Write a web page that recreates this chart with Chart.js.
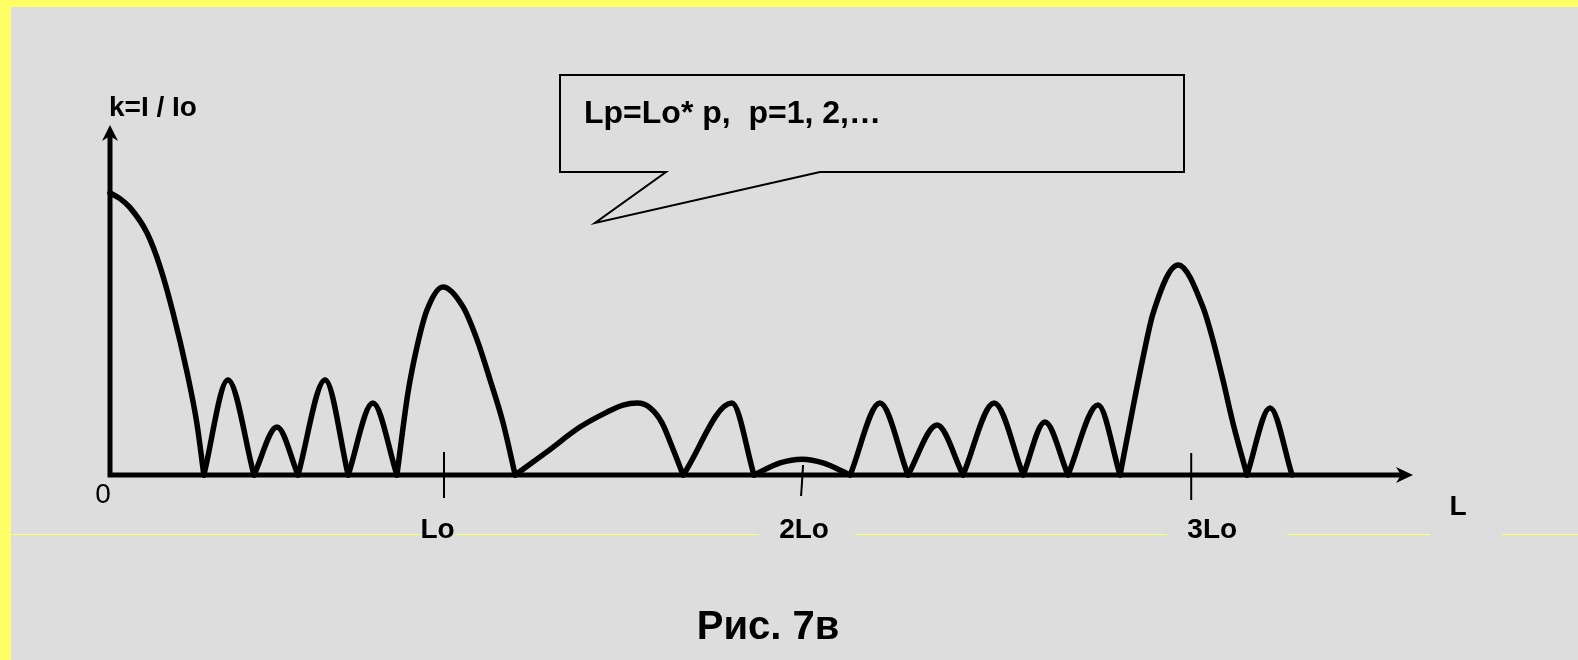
<!DOCTYPE html>
<html>
<head>
<meta charset="utf-8">
<style>
  html, body { margin: 0; padding: 0; background: #dddddd; overflow: hidden; }
  #c { display: block; }
</style>
<script src="https://cdn.jsdelivr.net/npm/chart.js@4.4.1/dist/chart.umd.min.js"></script>
</head>
<body>
<canvas id="c" width="1578" height="660"></canvas>
<script>
// ---- data (L in units of Lo, k = I / Io) ----
const L_VALUES = [
  0, 0.030, 0.060, 0.111, 0.150, 0.189, 0.231, 0.260, 0.281,
  0.353, 0.431,
  0.500, 0.563,
  0.644, 0.713,
  0.787, 0.859,
  0.892, 0.919, 0.949, 0.997, 1.057, 1.099, 1.138, 1.177, 1.213,
  1.308, 1.407, 1.488, 1.536, 1.578, 1.617, 1.653, 1.683, 1.716,
  1.862, 1.928,
  2.006, 2.072, 2.135, 2.216,
  2.305, 2.389,
  2.476, 2.554,
  2.647, 2.734,
  2.799, 2.868,
  2.958, 3.024,
  3.063, 3.093, 3.123, 3.198, 3.272, 3.302, 3.332, 3.362, 3.404,
  3.473, 3.539
];
const K_VALUES = [
  1.000, 0.980, 0.948, 0.858, 0.738, 0.574, 0.362, 0.184, 0,
  0.337, 0,
  0.170, 0,
  0.337, 0,
  0.255, 0,
  0.291, 0.454, 0.585, 0.667, 0.596, 0.479, 0.337, 0.184, 0,
  0.082, 0.170, 0.223, 0.248, 0.255, 0.238, 0.184, 0.099, 0,
  0.255, 0,
  0.043, 0.056, 0.043, 0,
  0.255, 0,
  0.177, 0,
  0.255, 0,
  0.188, 0,
  0.248, 0,
  0.241, 0.418, 0.574, 0.745, 0.596, 0.479, 0.337, 0.184, 0,
  0.238, 0
];
const TICK_VALUES = [1.0, 2.072, 3.237];
const TICK_LABELS = ['Lo', '2Lo', '3Lo'];
const ORIGIN_LABEL = '0';
const X_AXIS_TITLE = 'L';
const Y_AXIS_TITLE = 'k=I / Io';
const CALLOUT_TEXT = 'Lp=Lo* p,  p=1, 2,\u2026';
const CAPTION = 'Рис. 7в';
const X_MAX = 3.901;
const Y_MAX = 1.241;

// ---- split the series into lobes at its zeros (sharp cusps) ----
function lobes() {
  const segs = [];
  let cur = [];
  for (let i = 0; i < L_VALUES.length; i++) {
    const p = { x: L_VALUES[i], y: K_VALUES[i] };
    cur.push(p);
    if (K_VALUES[i] === 0 && i > 0 && i < L_VALUES.length - 1) {
      segs.push(cur);
      cur = [p];
    }
  }
  if (cur.length > 1) segs.push(cur);
  return segs;
}

const FONT = '"Liberation Sans", Arial, Helvetica, sans-serif';
const GRAY = '#dddddd';
const YELLOW = '#ffff66';

const decor = {
  id: 'decor',
  beforeDraw(chart) {
    const ctx = chart.ctx;
    ctx.save();
    ctx.fillStyle = YELLOW;
    ctx.fillRect(0, 0, chart.width, chart.height);
    ctx.fillStyle = GRAY;
    ctx.fillRect(11, 7, chart.width - 11, chart.height - 7);
    // thin yellow line with gaps behind the labels
    ctx.strokeStyle = YELLOW;
    ctx.lineWidth = 1;
    const segs = [[12, 421], [455, 759], [855, 1167], [1287, 1430], [1502, 1578]];
    ctx.beginPath();
    for (const s of segs) { ctx.moveTo(s[0], 534.5); ctx.lineTo(s[1], 534.5); }
    ctx.stroke();
    // callout
    ctx.strokeStyle = '#000';
    ctx.lineWidth = 2;
    ctx.lineJoin = 'miter';
    ctx.beginPath();
    ctx.moveTo(820, 172);
    ctx.lineTo(1184, 172);
    ctx.lineTo(1184, 75);
    ctx.lineTo(560, 75);
    ctx.lineTo(560, 172);
    ctx.lineTo(666, 172);
    ctx.lineTo(595, 223);
    ctx.closePath();
    ctx.fillStyle = GRAY;
    ctx.fill();
    ctx.stroke();
    ctx.fillStyle = '#000';
    ctx.font = 'bold 32px ' + FONT;
    ctx.textAlign = 'left';
    ctx.textBaseline = 'alphabetic';
    ctx.fillText(CALLOUT_TEXT, 584, 123);
    ctx.restore();
  },
  beforeDatasetsDraw(chart) {
    const ctx = chart.ctx;
    const xs = chart.scales.x, ys = chart.scales.y;
    const x0 = xs.getPixelForValue(0), y0 = ys.getPixelForValue(0);
    const xEnd = xs.getPixelForValue(X_MAX), yEnd = ys.getPixelForValue(Y_MAX);
    ctx.save();
    ctx.strokeStyle = '#000';
    ctx.fillStyle = '#000';
    ctx.lineWidth = 5;
    ctx.lineCap = 'butt';
    ctx.beginPath();
    ctx.moveTo(x0 - 2.5, y0);
    ctx.lineTo(xEnd - 10, y0);
    ctx.moveTo(x0, y0 + 2.5);
    ctx.lineTo(x0, yEnd + 10);
    ctx.stroke();
    // arrow heads
    ctx.beginPath();
    ctx.moveTo(xEnd, y0);
    ctx.lineTo(xEnd - 17, y0 - 8);
    ctx.lineTo(xEnd - 12, y0);
    ctx.lineTo(xEnd - 17, y0 + 8);
    ctx.closePath();
    ctx.fill();
    ctx.beginPath();
    ctx.moveTo(x0, yEnd);
    ctx.lineTo(x0 - 8, yEnd + 16);
    ctx.lineTo(x0, yEnd + 11);
    ctx.lineTo(x0 + 8, yEnd + 16);
    ctx.closePath();
    ctx.fill();
    // tick marks
    const tickSpan = [[452, 498, 0], [465, 496, 2], [453, 500, 0]];
    ctx.lineWidth = 2;
    TICK_VALUES.forEach((v, i) => {
      const px = xs.getPixelForValue(v);
      const s = tickSpan[i];
      ctx.beginPath();
      ctx.moveTo(px + s[2] / 2, s[0]);
      ctx.lineTo(px - s[2] / 2, s[1]);
      ctx.stroke();
    });
    // labels
    const labelShift = [-6.5, 2, 21];
    ctx.font = 'bold 28px ' + FONT;
    ctx.textAlign = 'center';
    ctx.textBaseline = 'alphabetic';
    TICK_LABELS.forEach((t, i) => {
      ctx.fillText(t, xs.getPixelForValue(TICK_VALUES[i]) + labelShift[i], 538);
    });
    ctx.fillText(X_AXIS_TITLE, 1458, 515);
    ctx.font = '28px ' + FONT;
    ctx.fillText(ORIGIN_LABEL, x0 - 7, 503);
    ctx.font = 'bold 28px ' + FONT;
    ctx.textAlign = 'left';
    ctx.fillText(Y_AXIS_TITLE, 109, 116);
    ctx.font = 'bold 40px ' + FONT;
    ctx.textAlign = 'center';
    ctx.fillText(CAPTION, 768, 639);
    ctx.restore();
  }
};

const datasets = lobes().map(seg => ({
  data: seg,
  borderColor: '#000',
  borderWidth: 5.5,
  pointRadius: 0,
  fill: false,
  clip: false,
  cubicInterpolationMode: 'monotone',
  borderJoinStyle: 'round',
  borderCapStyle: 'round'
}));

new Chart(document.getElementById('c'), {
  type: 'line',
  data: { datasets },
  options: {
    responsive: false,
    devicePixelRatio: 1,
    animation: false,
    layout: { padding: { left: 110, right: 165, top: 125, bottom: 185 } },
    scales: {
      x: { type: 'linear', min: 0, max: X_MAX, display: false },
      y: { type: 'linear', min: 0, max: Y_MAX, display: false }
    },
    plugins: { legend: { display: false }, tooltip: { enabled: false }, title: { display: false } },
    events: []
  },
  plugins: [decor]
});
</script>
</body>
</html>
